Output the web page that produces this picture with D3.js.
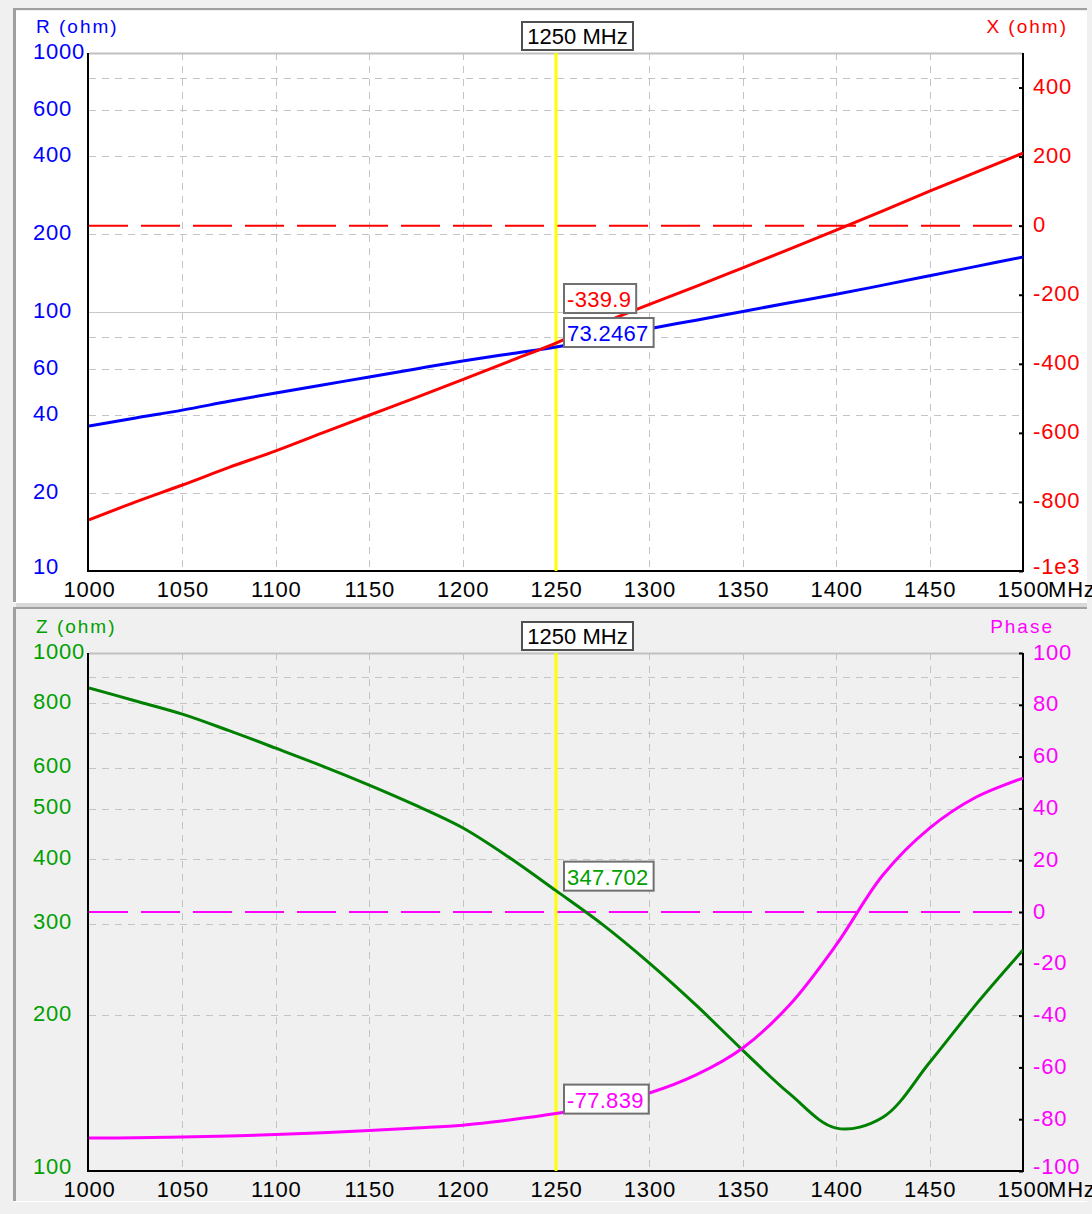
<!DOCTYPE html>
<html>
<head>
<meta charset="utf-8">
<script src="https://cdn.jsdelivr.net/npm/d3@7"></script>
<style>
  body { margin: 0; background: #f0f0f0; }
  svg { display: block; font-family: "Liberation Sans", Arial, sans-serif; }
</style>
</head>
<body>
<svg id="chart" width="1092" height="1214"></svg>
<script>
/* DATA */
const freq = [1000, 1025, 1050, 1075, 1100, 1125, 1150, 1175, 1200, 1225, 1250,
  1275, 1300, 1325, 1350, 1375, 1400, 1425, 1450, 1475, 1500];
const resistance = [36.3, 39.0, 41.8, 45.2, 48.7, 52.3, 56.1, 60.3, 64.7, 68.9, 73.2467,
  79.4, 86.2, 93.0, 100.5, 108.5, 117, 127, 138, 150, 163];
const reactance = [-852, -800, -751, -700, -652, -600, -549, -498, -446, -393, -339.9,
  -282, -228, -176, -122, -68, -13, 43, 100, 155, 210];
const impedance = [856, 808, 762, 708, 655, 605, 556, 508, 460, 403, 347.702,
  299, 252, 209, 171, 141, 121, 127, 162, 210, 267];
const phase = [-87.3, -87.2, -86.9, -86.5, -85.9, -85.2, -84.4, -83.4, -82.3, -80.3, -77.839,
  -74.5, -69.9, -62.9, -52.5, -35.9, -12.7, 14.3, 32.4, 44.4, 51.7];

const markerFreq = 1250;
const markerR = 73.2467, markerX = -339.9, markerZ = 347.702, markerPhase = -77.839;

const freqTicks = [1000, 1050, 1100, 1150, 1200, 1250, 1300, 1350, 1400, 1450, 1500];
const freqGrid = [1050, 1100, 1150, 1200, 1250, 1300, 1350, 1400, 1450];
const rTicks = [1000, 600, 400, 200, 100, 60, 40, 20, 10];
const rGrid = [800, 600, 400, 200, 80, 60, 40, 20];
const xTicks = [400, 200, 0, -200, -400, -600, -800, -1000];
const zTicks = [1000, 800, 600, 500, 400, 300, 200, 100];
const zGrid = [900, 800, 700, 600, 500, 400, 300, 200];
const phaseTicks = [100, 80, 60, 40, 20, 0, -20, -40, -60, -80, -100];

/* CONSTANTS */
const plotLeft = 89, plotRight = 1023;
const top1 = 53, bottom1 = 571;
const top2 = 653, bottom2 = 1171;
const blue = "#0000ff", red = "#ff0000", green = "#008000", greenText = "#00a000", magenta = "#ff00ff";
const fmt = d => String(d); // plain hyphen minus, like the analyser

const svg = d3.select("#chart");

/* PANEL FRAMES */
svg.append("rect").attr("x", 0).attr("y", 0).attr("width", 1092).attr("height", 1214).attr("fill", "#f0f0f0");
svg.append("rect").attr("x", 16).attr("y", 11).attr("width", 1071).attr("height", 592).attr("fill", "#ffffff");
svg.append("rect").attr("x", 16).attr("y", 610).attr("width", 1071).attr("height", 591).attr("fill", "#f0f0f0");
[[8, 602], [607, 1201]].forEach(([y0, y1]) => {
  svg.append("line").attr("x1", 13).attr("x2", 1087).attr("y1", y0 + 1).attr("y2", y0 + 1)
    .attr("stroke", "#a0a0a0").attr("stroke-width", 2);
  svg.append("line").attr("x1", 14.5).attr("x2", 14.5).attr("y1", y0).attr("y2", y1)
    .attr("stroke", "#a0a0a0").attr("stroke-width", 3);
  svg.append("line").attr("x1", 13).attr("x2", 1087).attr("y1", y1 + 0.5).attr("y2", y1 + 0.5)
    .attr("stroke", "#ffffff").attr("stroke-width", 1);
});
svg.append("rect").attr("x", 16).attr("y", 603).attr("width", 1071).attr("height", 4).attr("fill", "#d8d8d8");

/* SCALES */
const xScale = d3.scaleLinear().domain([1000, 1500]).range([plotLeft, plotRight]);
const rScale = d3.scaleLog().domain([10, 1000]).range([bottom1, top1]);
const reactScale = d3.scaleLinear().domain([-1000, 500]).range([bottom1, top1]);
const zScale = d3.scaleLog().domain([100, 1000]).range([bottom2, top2]);
const phaseScale = d3.scaleLinear().domain([-100, 100]).range([bottom2, top2]);

function drawPanel(cfg) {
  const g = svg.append("g");
  const yTop = cfg.top, yBot = cfg.bottom;

  // clip for curves
  const clipId = "clip" + cfg.id;
  svg.append("clipPath").attr("id", clipId)
    .append("rect").attr("x", plotLeft).attr("y", yTop)
    .attr("width", plotRight - plotLeft).attr("height", yBot - yTop);

  // grid
  g.selectAll(".vgrid").data(freqGrid).join("line")
    .attr("x1", d => Math.round(xScale(d)) + 0.5).attr("x2", d => Math.round(xScale(d)) + 0.5)
    .attr("y1", yTop).attr("y2", yBot)
    .attr("stroke", "#c4c4c4").attr("stroke-dasharray", "7,6");
  g.selectAll(".hgrid").data(cfg.grid).join("line")
    .attr("x1", plotLeft).attr("x2", plotRight)
    .attr("y1", d => Math.round(cfg.leftScale(d)) + 0.5).attr("y2", d => Math.round(cfg.leftScale(d)) + 0.5)
    .attr("stroke", "#c4c4c4").attr("stroke-dasharray", "7,6");
  if (cfg.solid) {
    g.append("line").attr("x1", plotLeft).attr("x2", plotRight)
      .attr("y1", Math.round(cfg.leftScale(cfg.solid)) + 0.5).attr("y2", Math.round(cfg.leftScale(cfg.solid)) + 0.5)
      .attr("stroke", "#c8c8c8");
  }

  // zero line of the right axis
  g.append("line").attr("x1", plotLeft).attr("x2", plotRight)
    .attr("y1", cfg.rightScale(0)).attr("y2", cfg.rightScale(0))
    .attr("stroke", cfg.rightColor).attr("stroke-width", 2).attr("stroke-dasharray", "39,13");

  // frame
  g.append("line").attr("x1", plotLeft).attr("x2", plotRight).attr("y1", yTop + 0.5).attr("y2", yTop + 0.5)
    .attr("stroke", "#c0c0c0").attr("stroke-width", 2);
  g.append("path")
    .attr("d", `M${plotLeft - 1},${yTop} V${yBot} H${plotRight} V${yTop}`)
    .attr("fill", "none").attr("stroke", "#000").attr("stroke-width", 2);

  // marker
  const mx = xScale(markerFreq);
  g.append("line").attr("x1", mx).attr("x2", mx).attr("y1", yTop).attr("y2", yBot)
    .attr("stroke", "#ffff00").attr("stroke-width", 3);

  // curves
  const curves = g.append("g").attr("clip-path", `url(#${clipId})`);
  cfg.series.forEach(s => {
    const line = d3.line().curve(d3.curveCatmullRom.alpha(0.5))
      .x((d, i) => xScale(freq[i])).y(d => s.scale(d));
    curves.append("path").datum(s.values)
      .attr("d", line)
      .attr("fill", "none").attr("stroke", s.color).attr("stroke-width", 3)
      .attr("stroke-linejoin", "round");
  });

  // left axis labels
  const leftAxis = d3.axisRight(cfg.leftScale).tickValues(cfg.leftTicks)
    .tickFormat(fmt).tickSize(0).tickPadding(0);
  const la = g.append("g").attr("transform", "translate(33,0)").call(leftAxis);
  la.select(".domain").remove();
  la.selectAll("text")
    .attr("fill", cfg.leftColor).attr("font-size", 22).attr("letter-spacing", 0.8)
    .attr("font-family", "Liberation Sans, Arial, sans-serif")
    .attr("dy", (d, i, n) => i === n.length - 1 ? "2px" : "5px");

  // right axis labels + inner ticks
  const rightAxis = d3.axisRight(cfg.rightScale).tickValues(cfg.rightTicks)
    .tickFormat(cfg.rightFormat).tickSizeInner(-4).tickSizeOuter(0).tickPadding(10);
  const ra = g.append("g").attr("transform", `translate(${plotRight},0)`).call(rightAxis);
  ra.select(".domain").remove();
  ra.selectAll("line").attr("stroke", "#000").attr("stroke-width", 2);
  ra.selectAll("text")
    .attr("fill", cfg.rightColor).attr("font-size", 22).attr("letter-spacing", 0.8)
    .attr("font-family", "Liberation Sans, Arial, sans-serif")
    .attr("dy", (d, i, n) => i === n.length - 1 ? "2px" : "6px");

  // frequency axis
  const bottomAxis = d3.axisBottom(xScale).tickValues(freqTicks)
    .tickFormat(fmt).tickSize(0).tickPadding(10);
  const ba = g.append("g").attr("transform", `translate(0,${yBot})`).call(bottomAxis);
  ba.select(".domain").remove();
  ba.selectAll("text")
    .attr("fill", "#000").attr("font-size", 22).attr("letter-spacing", 0.8)
    .attr("font-family", "Liberation Sans, Arial, sans-serif");
  g.append("text").attr("x", xScale(1500) + 25).attr("y", yBot + 10).attr("dy", "0.71em")
    .attr("font-size", 22).attr("letter-spacing", 0.8).text("MHz");

  // titles
  g.append("text").attr("x", 36).attr("y", yTop - 20)
    .attr("fill", cfg.leftColor).attr("font-size", 19).attr("letter-spacing", 2)
    .text(cfg.leftTitle);
  g.append("text").attr("x", cfg.rightTitleEnd).attr("y", yTop - 20).attr("text-anchor", "end")
    .attr("fill", cfg.rightColor).attr("font-size", 19).attr("letter-spacing", 2)
    .text(cfg.rightTitle);

  // marker frequency box
  const fb = g.append("g");
  fb.append("rect").attr("x", 522).attr("y", yTop - 31).attr("width", 111).attr("height", 28)
    .attr("fill", "#fff").attr("stroke", "#505050").attr("stroke-width", 2);
  fb.append("text").attr("x", 577.5).attr("y", yTop - 17).attr("dy", "0.35em")
    .attr("text-anchor", "middle").attr("font-size", 22).text(markerFreq + " MHz");

  // readout boxes, pushed upward only when they would overlap the previous one
  let prev = null;
  cfg.readouts.forEach(r => {
    let bottom = r.scale(r.value);
    if (prev && bottom > prev.top - 5 && bottom - 29 < prev.bottom) bottom = prev.top - 5;
    const bg = g.append("g");
    const txt = bg.append("text").attr("x", mx + 11).attr("y", bottom - 14).attr("dy", "0.36em")
      .attr("fill", r.color).attr("font-size", 22).attr("letter-spacing", 0.3).text(r.label);
    const w = txt.node().getComputedTextLength();
    bg.insert("rect", "text").attr("x", mx + 8).attr("y", bottom - 29)
      .attr("width", w + 8).attr("height", 29)
      .attr("fill", "#fff").attr("stroke", "#707070").attr("stroke-width", 2);
    prev = { top: bottom - 29, bottom: bottom };
  });
}

drawPanel({
  id: 1, top: top1, bottom: bottom1,
  leftScale: rScale, leftTicks: rTicks, grid: rGrid, solid: 100, leftColor: blue, leftTitle: "R (ohm)",
  rightScale: reactScale, rightTicks: xTicks, rightColor: red, rightTitle: "X (ohm)", rightTitleEnd: 1068,
  rightFormat: d => d === -1000 ? "-1e3" : fmt(d),
  series: [
    { values: resistance, scale: rScale, color: blue },
    { values: reactance, scale: reactScale, color: red }
  ],
  readouts: [
    { value: markerR, label: "73.2467", scale: rScale, color: blue },
    { value: markerX, label: "-339.9", scale: reactScale, color: red }
  ]
});

drawPanel({
  id: 2, top: top2, bottom: bottom2,
  leftScale: zScale, leftTicks: zTicks, grid: zGrid, solid: null, leftColor: greenText, leftTitle: "Z (ohm)",
  rightScale: phaseScale, rightTicks: phaseTicks, rightColor: magenta, rightTitle: "Phase", rightTitleEnd: 1054,
  rightFormat: fmt,
  series: [
    { values: impedance, scale: zScale, color: green },
    { values: phase, scale: phaseScale, color: magenta }
  ],
  readouts: [
    { value: markerZ, label: "347.702", scale: zScale, color: greenText },
    { value: markerPhase, label: "-77.839", scale: phaseScale, color: magenta }
  ]
});
</script>
</body>
</html>
